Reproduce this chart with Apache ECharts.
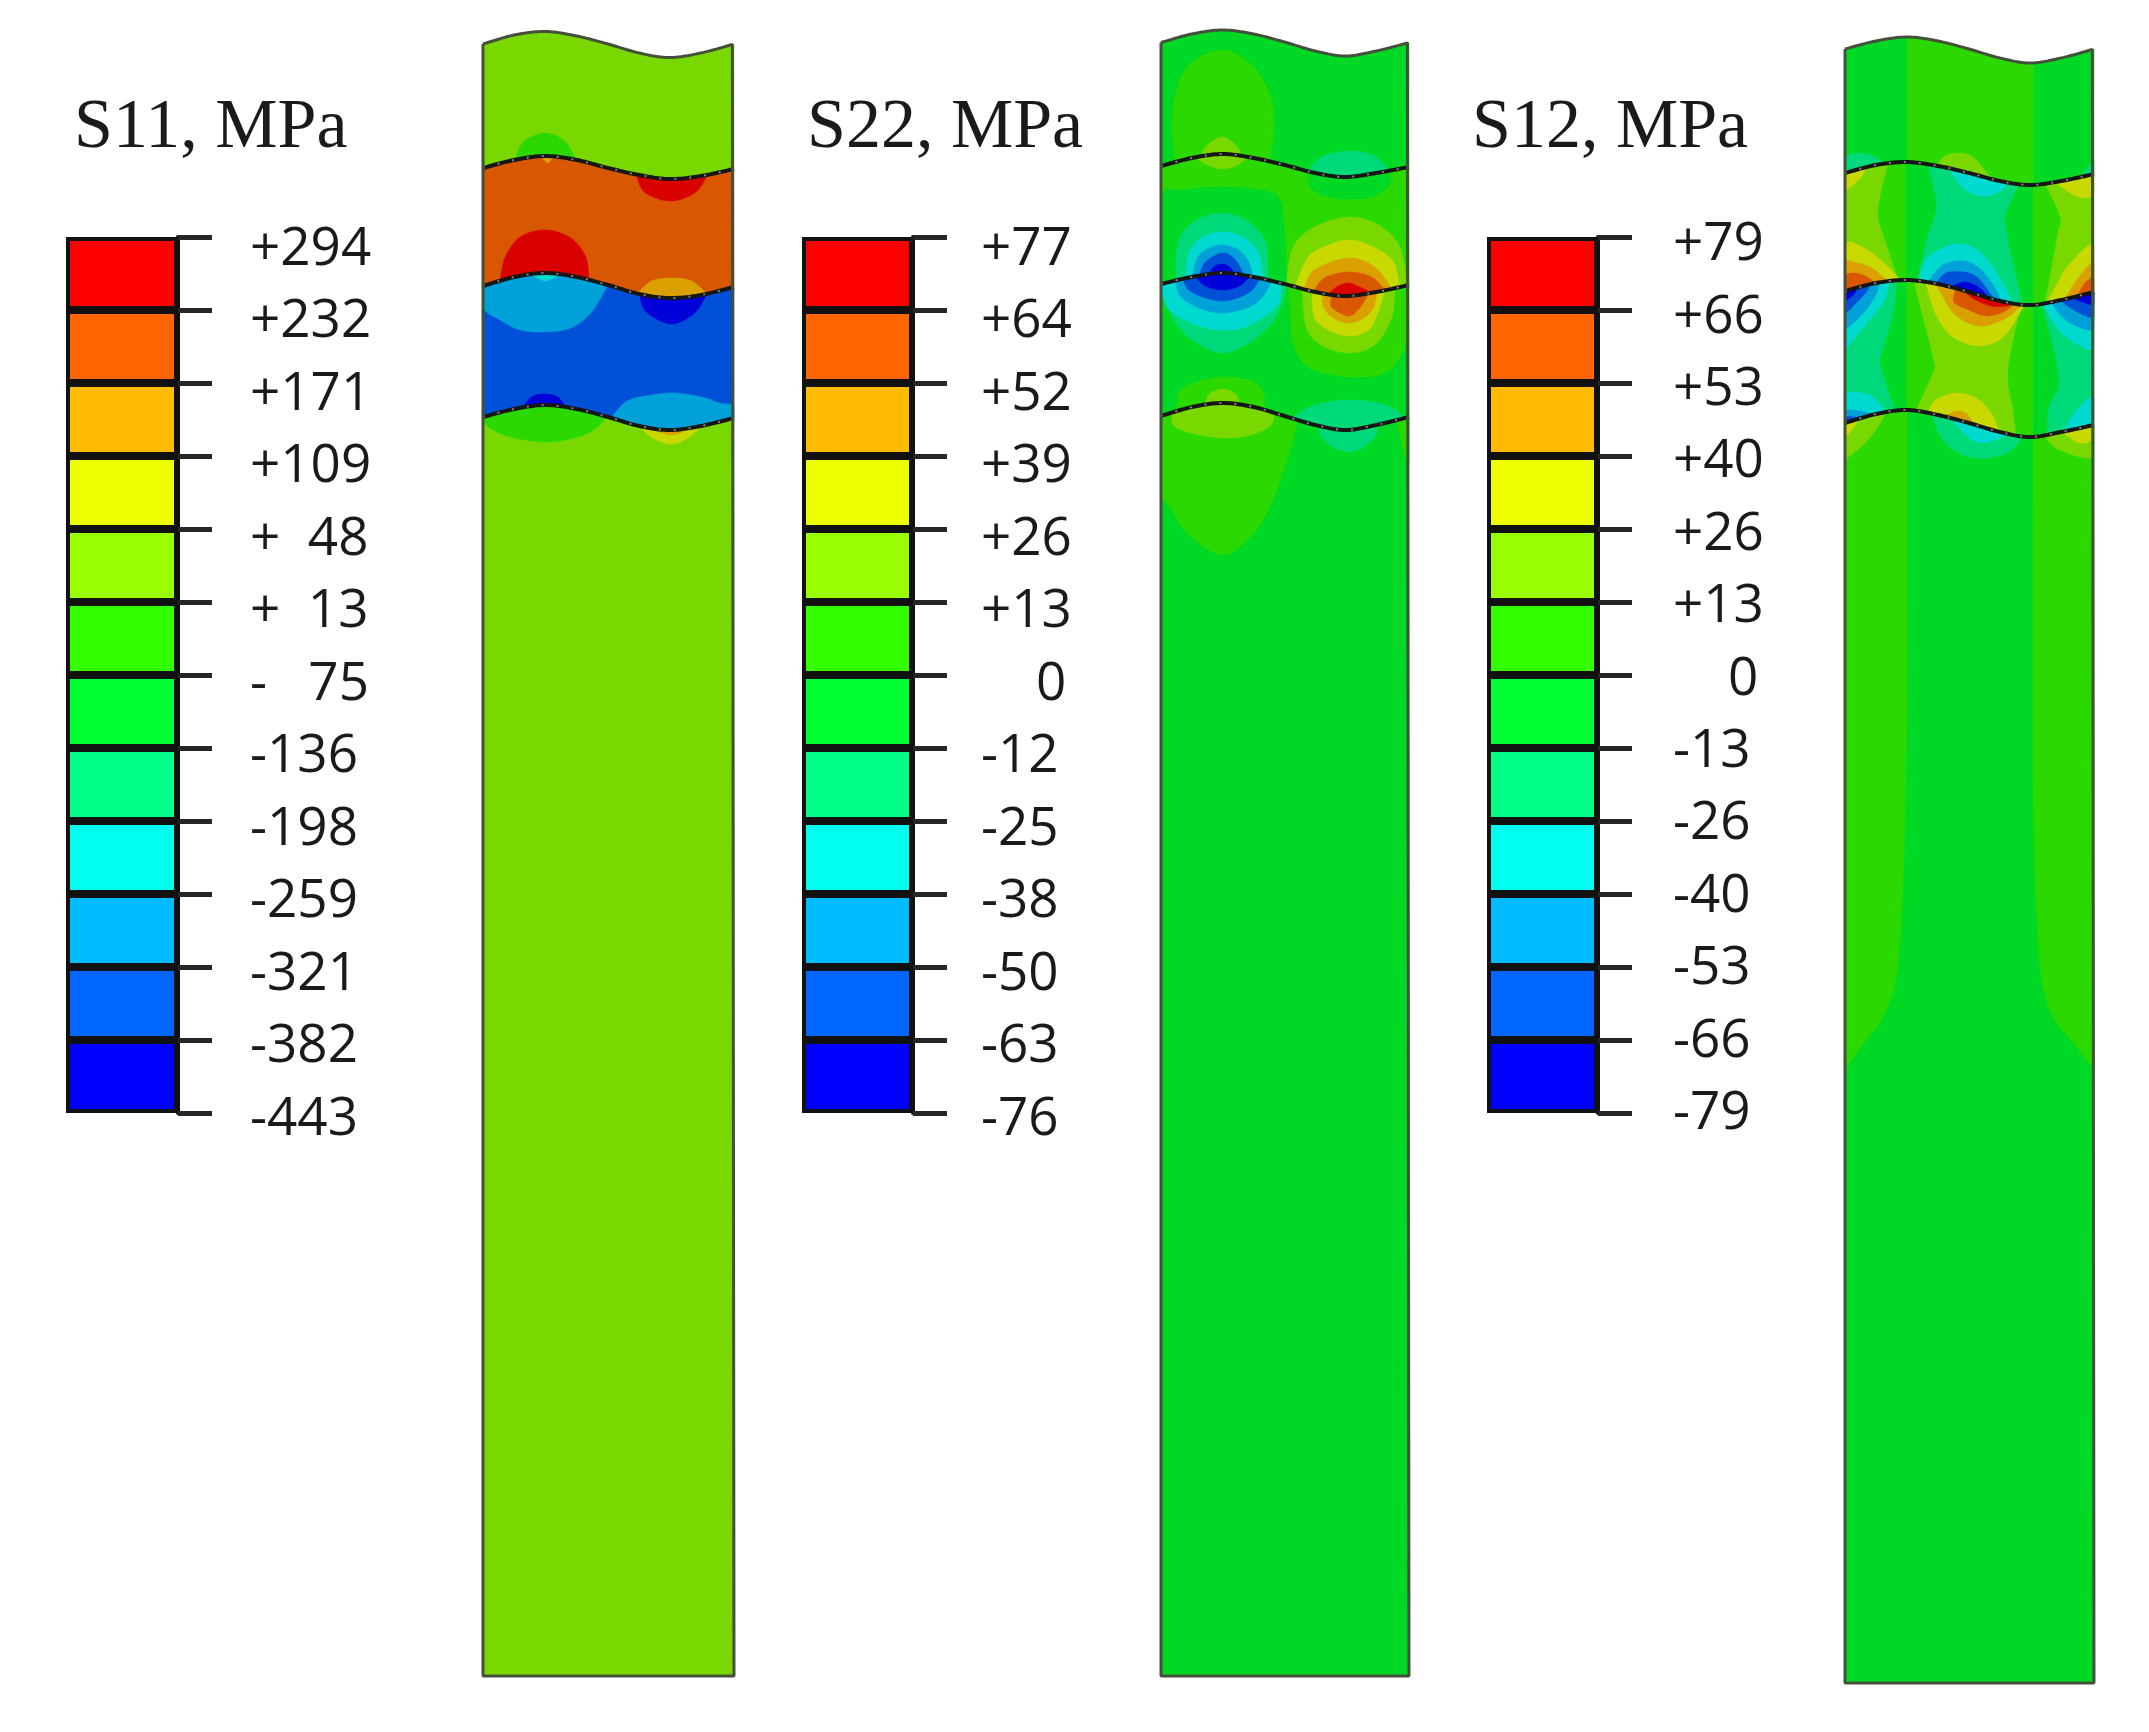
<!DOCTYPE html>
<html><head><meta charset="utf-8">
<style>html,body{margin:0;padding:0;background:#fff}#c{width:2149px;height:1732px;filter:blur(0.7px)}</style>
<script src="https://cdn.jsdelivr.net/npm/echarts@6/dist/echarts.min.js"></script>
</head><body><div id="c"></div>
<script>
// ---------- legend data ----------
const titles = ['S11, MPa', 'S22, MPa', 'S12, MPa'];
const s11Labels = ['+294','+232','+171','+109','+  48','+  13','-   75','-136','-198','-259','-321','-382','-443'];
const s22Labels = ['+77','+64','+52','+39','+26','+13','    0','-12','-25','-38','-50','-63','-76'];
const s12Labels = ['+79','+66','+53','+40','+26','+13','    0','-13','-26','-40','-53','-66','-79'];
const legendColors = ['#ff0000','#ff6600','#ffbb00','#eeff00','#99ff00','#33ff00','#00ff33','#00ff88','#00ffee','#00bbff','#0066ff','#0000ff'];
// contour level number -> shaded colour on the specimen
const shade = {2:'#0000d9',3:'#0050d8',4:'#00a0d9',5:'#00d9d0',6:'#00d97a',7:'#00d826',8:'#2bd900',9:'#78d800',10:'#c8d900',11:'#d9a000',12:'#d95700',13:'#d90000'};

// ---------- interface curves: across position -> position along the specimen ----------
const waveX = [0,31,62,93,124,155,185,216,249];
const s11Top = [44,35,31.5,36,44,53,57.5,53,44];
const s11A = [168,160,156,160,168,175,179,176,169];
const s11B = [286,277,273,277,285,294,298,295,287];
const s11C = [417,409,405,409,417,426,430,426,418];
const s22Top = [42.5,34,30,34,42,51,56,51,42.5];
const s22A = [166,158,154,158,165,173,177,173,167];
const s22B = [284,277,273,277,284,292,296,292,285];
const s22C = [416,407,403,407,416,425,430,425,417];
const s12Top = [49,41,37,41,49,58,63,58,49];
const s12A = [173,165,162,166,173,181,185,181,174];
const s12B = [291,283,280,284,292,301,305,300,292];
const s12C = [423,414,410,415,423,432,437,432,425];
const s11Bottom = 1676, s22Bottom = 1676, s12Bottom = 1683;
const s11Width = 249, s22Width = 246, s12Width = 247;
const s11Bands = [9,12,3,9], s22Bands = [7,8,7,7], s12Bands = [7,9,6,7];

// ---------- contour regions: [level, curve it closes on, outline] ----------
const s11Regions = [
 [8,'A',[[32,156],[40,142],[62,133],[82,142],[92,157]]],
 [11,'A',[[58,157],[64,163],[70,157]]],
 [13,'A',[[152,178],[160,192],[185,201],[210,193],[223,176]]],
 [13,'B',[[17,278],[22,257],[37,237],[62,230],[87,238],[102,257],[105,277]]],
 [11,'B',[[153,290],[167,281],[187,278],[207,281],[222,291]]],
 [4,'B',[[0,286],[0,308],[17,320],[37,330],[62,332],[87,328],[107,313],[124,290]]],
 [5,'B',[[47,277],[62,281],[77,278]]],
 [2,'B',[[155,295],[162,312],[187,324],[210,313],[222,295]]],
 [2,'C',[[40,407],[48,397],[61,394],[74,397],[82,407]]],
 [4,'C',[[127,416],[143,401],[167,395],[190,393],[217,397],[235,403],[249,406],[249,418]]],
 [8,'C',[[0,417],[0,420],[7,428],[27,437],[62,442],[90,438],[110,430],[123,421]]],
 [10,'C',[[155,429],[168,438],[187,444],[203,438],[217,430]]],
 [11,'C',[[165,428],[187,435],[205,428]]]
];
const s22Regions = [
 [8,'A',[[14,160],[11,130],[14,95],[28,65],[60,50],[90,65],[108,95],[112,125],[108,160]]],
 [9,'A',[[40,156],[45,146],[60,137],[74,145],[80,156]]],
 [6,'A',[[146,167],[159,157],[186,151],[212,156],[226,167]]],
 [9,'A',[[34,160],[46,165],[61,169],[76,165],[86,157]]],
 [7,'A',[[146,173],[149,188],[166,197],[186,199],[209,197],[226,185],[227,171]]],
 [7,'B',[[0,284],[0,198],[22,190],[61,187],[99,190],[117,198],[122,223],[124,270],[124,284]]],
 [6,'B',[[15,277],[17,243],[32,222],[61,213],[87,222],[104,243],[106,273]]],
 [5,'B',[[24,278],[28,252],[42,237],[61,232],[81,237],[97,253],[101,275]]],
 [4,'B',[[31,277],[36,258],[46,249],[61,245],[77,250],[87,262],[91,273]]],
 [3,'B',[[38,273],[44,262],[61,253],[74,260],[82,272]]],
 [2,'B',[[48,273],[52,267],[61,264],[68,267],[73,273]]],
 [6,'B',[[0,286],[4,300],[16,325],[34,342],[61,353],[89,342],[112,320],[121,300],[125,285]]],
 [5,'B',[[0,286],[6,307],[24,320],[45,328],[61,330],[80,328],[100,318],[117,303],[119,287]]],
 [4,'B',[[14,287],[20,297],[40,309],[61,313],[85,308],[100,298],[110,289]]],
 [3,'B',[[22,281],[30,292],[61,301],[88,292],[98,282]]],
 [2,'B',[[34,279],[44,286],[61,290],[78,286],[88,280]]],
 [9,'B',[[124,277],[131,247],[152,227],[186,217],[216,225],[237,247],[244,273]]],
 [10,'B',[[133,283],[146,257],[166,245],[186,240],[206,245],[229,260],[237,282]]],
 [11,'B',[[142,287],[152,270],[186,258],[212,267],[229,285]]],
 [12,'B',[[151,290],[162,278],[186,272],[209,277],[222,288]]],
 [13,'B',[[166,293],[174,287],[186,283],[197,287],[209,294]]],
 [8,'B',[[126,285],[129,320],[131,343],[146,367],[186,377],[222,373],[241,350],[244,320],[245,287]]],
 [9,'B',[[140,287],[144,327],[159,345],[186,353],[212,345],[229,317],[232,288]]],
 [10,'B',[[150,291],[152,317],[166,330],[186,336],[206,330],[216,310],[222,290]]],
 [11,'B',[[160,296],[161,307],[171,318],[186,323],[201,318],[211,307],[214,294]]],
 [12,'B',[[170,297],[169,307],[186,316],[197,308],[206,296]]],
 [8,'C',[[16,411],[18,392],[35,382],[61,377],[90,381],[101,392],[103,411]]],
 [9,'C',[[44,405],[48,394],[61,389],[74,394],[78,405]]],
 [6,'C',[[130,418],[145,408],[165,402],[186,400],[210,402],[230,408],[242,417]]],
 [8,'C',[[0,416],[0,490],[9,507],[26,533],[61,555],[92,533],[112,497],[126,457],[136,423]]],
 [9,'C',[[11,412],[12,425],[29,433],[61,438],[89,435],[109,425],[112,420]]],
 [6,'C',[[157,425],[159,437],[171,447],[186,452],[201,447],[212,437],[215,423]]],
 [8,'C',[[235,421],[238,440],[246,465],[246,417]]]
];
// columns between two curves: [level, upper curve, lower curve, left edge, right edge]
const s12Columns = [
 [8,'Top','A',[[62,40],[62,162]],[[187,60],[187,185]]],
 [8,'A','B',[[43,168],[35,197],[33,217],[40,240],[53,282]],[[61,162],[61,280]]],
 [7,'A','B',[[61,162],[61,280]],[[82,168],[90,197],[90,213],[82,237],[72,283]]],
 [6,'A','B',[[82,168],[90,197],[90,213],[82,237],[72,283]],[[173,187],[160,213],[160,227],[167,263],[177,304]]],
 [7,'A','B',[[173,187],[160,213],[160,227],[167,263],[177,304]],[[187,185],[187,305]]],
 [8,'A','B',[[187,185],[187,305]],[[198,183],[213,217],[210,237],[198,300]]],
 [7,'B','C',[[52,282],[48,313],[37,353],[35,363],[42,387],[50,412]],[[61,280],[61,410]]],
 [8,'B','C',[[61,280],[61,410]],[[68,281],[73,300],[88,360],[87,373],[72,407],[70,412]]],
 [9,'B','C',[[68,281],[73,300],[88,360],[87,373],[72,407],[70,412]],[[178,305],[175,307],[162,370],[167,410],[170,433]]],
 [8,'B','C',[[178,305],[175,307],[162,370],[167,410],[170,433]],[[187,305],[187,437]]],
 [7,'B','C',[[187,305],[187,437]],[[195,305],[212,377],[202,407],[200,433]]]
];
const s12Regions = [
 [8,'C',[[62,410],[62,600],[60,800],[53,960],[39,1014],[19,1042],[0,1069],[0,1060],[0,1000],[0,800],[0,600],[0,423]]],
 [8,'C',[[187,437],[187,800],[193,960],[205,1014],[226,1042],[247,1069],[247,1060],[247,1000],[247,800],[247,600],[247,425]]],
 [6,'A',[[0,173],[0,157],[17,153],[32,158],[36,163]]],
 [9,'A',[[92,167],[97,157],[112,153],[128,158],[145,179]]],
 [6,'A',[[233,176],[245,163],[247,162],[247,174]]],
 [10,'A',[[22,167],[15,178],[0,190],[0,173]]],
 [10,'A',[[208,182],[225,194],[238,198],[247,193],[247,174]]],
 [5,'A',[[103,173],[117,188],[135,196],[153,192],[162,183]]],
 [10,'B',[[0,291],[0,245],[17,247],[33,258],[48,272],[54,281]]],
 [11,'B',[[0,291],[0,263],[12,263],[25,267],[38,277],[41,282]]],
 [12,'B',[[0,291],[0,276],[10,273],[22,277],[30,285]]],
 [5,'B',[[73,281],[80,260],[97,248],[115,244],[135,253],[153,277],[167,303]]],
 [4,'B',[[82,282],[97,265],[117,261],[133,268],[147,285],[155,301]]],
 [3,'B',[[90,284],[100,273],[118,272],[132,278],[145,295],[150,299]]],
 [2,'B',[[105,287],[118,282],[132,287],[143,297]]],
 [10,'B',[[80,283],[85,300],[92,318],[107,337],[133,346],[157,337],[175,310],[178,305]]],
 [11,'B',[[90,288],[105,310],[120,322],[138,326],[160,318],[172,308],[174,305]]],
 [12,'B',[[110,289],[108,302],[123,310],[140,316],[157,312],[167,305],[169,304]]],
 [13,'B',[[118,291],[128,299],[145,306],[160,306],[165,303]]],
 [5,'B',[[0,291],[0,345],[10,337],[30,313],[40,298],[44,285]]],
 [4,'B',[[0,291],[0,327],[18,313],[30,296],[35,287]]],
 [3,'B',[[0,291],[0,312],[12,302],[22,291],[24,286]]],
 [2,'B',[[0,291],[0,300],[8,295],[13,287]]],
 [5,'B',[[195,304],[203,316],[212,330],[230,344],[247,346],[247,292]]],
 [4,'B',[[205,302],[212,313],[225,324],[247,328],[247,292]]],
 [3,'B',[[214,299],[225,309],[247,317],[247,292]]],
 [2,'B',[[225,297],[235,302],[247,304],[247,292]]],
 [10,'B',[[200,303],[210,285],[222,265],[247,245],[247,292]]],
 [11,'B',[[218,297],[232,277],[247,263],[247,292]]],
 [12,'B',[[230,297],[238,283],[247,278],[247,292]]],
 [5,'C',[[0,423],[0,395],[17,393],[30,399],[40,411],[43,415]]],
 [4,'C',[[0,423],[0,411],[15,411],[28,416]]],
 [3,'C',[[0,423],[0,417],[10,417],[16,419]]],
 [10,'C',[[82,415],[90,400],[110,393],[130,398],[145,413],[153,430]]],
 [11,'C',[[98,416],[112,411],[122,415],[127,420]]],
 [5,'C',[[218,432],[223,420],[233,407],[247,397],[247,425]]],
 [9,'C',[[42,418],[23,440],[3,457],[0,458],[0,423]]],
 [10,'C',[[14,418],[8,428],[0,436],[0,423]]],
 [6,'C',[[85,414],[97,440],[117,455],[140,458],[163,452],[175,438],[177,436]]],
 [5,'C',[[105,420],[122,437],[138,443],[157,437],[165,433]]],
 [9,'C',[[197,438],[213,450],[247,457],[247,425]]],
 [10,'C',[[215,431],[233,443],[247,438],[247,425]]]
];

// ---------- layout ----------
const barLayout = [{left:66,width:112},{left:802,width:111},{left:1487,width:111}];
const labelLayout = [{left:249,top:249.5,height:870},{left:980,top:249.5,height:870},{left:1672,top:245,height:869}];
const panelLayout = [{left:483,width:251},{left:1161,width:248},{left:1845,width:249}];
const titleLayout = [{left:69,top:89},{left:802,top:89},{left:1467,top:89}];

// ---------- geometry helpers ----------
function spline(pts, w, n){
  n = n || 8;
  const out = [];
  for (let i=0;i<pts.length-1;i++){
    const p0=pts[Math.max(i-1,0)],p1=pts[i],p2=pts[i+1],p3=pts[Math.min(i+2,pts.length-1)];
    for (let k=0;k<n;k++){
      const t=k/n,t2=t*t,t3=t2*t;
      const f=j=>0.5*(2*p1[j]+(p2[j]-p0[j])*t+(2*p0[j]-5*p1[j]+4*p2[j]-p3[j])*t2+(3*p1[j]-p0[j]-3*p2[j]+p3[j])*t3);
      out.push([Math.min(w,Math.max(0,f(0))),f(1)]);
    }
  }
  out.push(pts[pts.length-1]);
  return out;
}
function yAt(c,x){
  if (x<=c[0][0]) return c[0][1];
  for (let i=1;i<c.length;i++) if (x<=c[i][0]){
    const a=c[i-1],b=c[i];
    return a[1]+(b[1]-a[1])*(x-a[0])/Math.max(1e-6,b[0]-a[0]);
  }
  return c[c.length-1][1];
}
function along(c,x1,x2){
  const out=[],s=x2>x1?3:-3;
  for (let x=x1;s>0?x<x2:x>x2;x+=s) out.push([x,yAt(c,x)]);
  out.push([x2,yAt(c,x2)]);
  return out;
}
function snap(c,path){
  const p=path.map(q=>q.slice());
  p[0][1]=yAt(c,p[0][0]);
  return p;
}
function snapEnds(c,path){
  const p=snap(c,path);
  p[p.length-1][1]=yAt(c,p[p.length-1][0]);
  return p;
}
function buildPanel(xs,top,a,b,c,bottom,w,bands,cols,regions){
  const curve=ys=>spline(xs.map((x,i)=>[x*w/249,ys[i]]),w,12);
  const cv={Top:curve(top),A:curve(a),B:curve(b),C:curve(c),Bot:[[0,bottom],[w,bottom]]};
  const shapes=[];
  const between=(lv,u,l,left,right)=>{
    const L=snap(cv[u],left); L[L.length-1][1]=yAt(cv[l],L[L.length-1][0]);
    const R=snap(cv[u],right); R[R.length-1][1]=yAt(cv[l],R[R.length-1][0]);
    const ls=spline(L,w), rs=spline(R,w);
    shapes.push({c:shade[lv],p:[].concat(ls,along(cv[l],ls[ls.length-1][0],rs[rs.length-1][0]),rs.slice().reverse(),along(cv[u],rs[0][0],ls[0][0]))});
  };
  const names=['Top','A','B','C','Bot'];
  bands.forEach((lv,i)=>between(lv,names[i],names[i+1],[[0,0],[0,0]],[[w,0],[w,0]]));
  cols.forEach(s=>between(s[0],s[1],s[2],s[3],s[4]));
  regions.forEach(s=>{
    const k=cv[s[1]];
    const arc=snapEnds(k,s[2]);
    const sp=spline(arc,w);
    shapes.push({c:shade[s[0]],p:sp.concat(along(k,sp[sp.length-1][0],sp[0][0]))});
  });
  return {shapes,cv};
}
const panels=[
  buildPanel(waveX,s11Top,s11A,s11B,s11C,s11Bottom,s11Width,s11Bands,[],s11Regions),
  buildPanel(waveX,s22Top,s22A,s22B,s22C,s22Bottom,s22Width,s22Bands,[],s22Regions),
  buildPanel(waveX,s12Top,s12A,s12B,s12C,s12Bottom,s12Width,s12Bands,s12Columns,s12Regions)
];
const widths=[s11Width,s22Width,s12Width];
const bottoms=[s11Bottom,s22Bottom,s12Bottom];
const labelSets=[s11Labels,s22Labels,s12Labels];

// ---------- option ----------
const grid=[],xAxis=[],yAxis=[],series=[],title=[];
titles.forEach((t,i)=>title.push({text:t,left:titleLayout[i].left,top:titleLayout[i].top,textStyle:{fontFamily:'Liberation Serif',fontSize:70,fontWeight:'normal',color:'#1a1a1a'}}));
for (let i=0;i<3;i++){
  // colour bar
  let g=grid.length;
  grid.push({left:barLayout[i].left,width:barLayout[i].width,top:237,height:876});
  xAxis.push({gridIndex:g,type:'category',data:['band'],show:false});
  yAxis.push({gridIndex:g,type:'value',position:'right',min:0,max:12,interval:1,
    axisLine:{show:true,lineStyle:{color:'#111',width:4}},
    axisTick:{show:true,length:34,lineStyle:{color:'#262626',width:5}},
    axisLabel:{show:false},splitLine:{show:false}});
  legendColors.slice().reverse().forEach((c,k)=>series.push({type:'bar',name:'band'+k,stack:'b'+i,xAxisIndex:g,yAxisIndex:g,barWidth:'100%',data:[1],
    itemStyle:{color:c,borderColor:'#111',borderWidth:4},silent:true}));
  // tick labels
  g=grid.length;
  grid.push({left:labelLayout[i].left,width:1,top:labelLayout[i].top,height:labelLayout[i].height});
  xAxis.push({gridIndex:g,type:'value',min:0,max:1,show:false});
  const labs=labelSets[i];
  yAxis.push({gridIndex:g,type:'value',position:'right',inverse:true,min:0,max:12,interval:1,
    axisLine:{show:false},axisTick:{show:false},splitLine:{show:false},
    axisLabel:{show:true,margin:0,align:'left',fontFamily:'Open Sans',fontSize:53,color:'#1a1a1a',formatter:v=>labs[v]}});
  // specimen
  g=grid.length;
  grid.push({left:panelLayout[i].left,width:panelLayout[i].width,top:0,height:1732});
  xAxis.push({gridIndex:g,type:'value',min:0,max:widths[i],show:false});
  yAxis.push({gridIndex:g,type:'value',inverse:true,min:0,max:1732,show:false});
  const P=panels[i];
  series.push({type:'custom',coordinateSystem:'cartesian2d',xAxisIndex:g,yAxisIndex:g,clip:false,silent:true,
    data:P.shapes.map((s,k)=>[k,k]),
    renderItem:(params,api)=>{
      const s=P.shapes[params.dataIndex];
      return {type:'polygon',shape:{points:s.p.map(q=>api.coord(q))},style:{fill:s.c,stroke:s.c,lineWidth:0.5}};
    }});
  ['A','B','C'].forEach(n=>{
    series.push({type:'line',xAxisIndex:g,yAxisIndex:g,showSymbol:false,silent:true,clip:false,data:P.cv[n],
      lineStyle:{color:'#161616',width:4}});
    series.push({type:'line',xAxisIndex:g,yAxisIndex:g,showSymbol:false,silent:true,clip:false,data:P.cv[n],
      lineStyle:{color:'#d8d8d8',width:2,type:[2,13],opacity:0.55}});
  });
  const w=widths[i],b=bottoms[i];
  series.push({type:'line',xAxisIndex:g,yAxisIndex:g,showSymbol:false,silent:true,clip:false,
    data:P.cv.Top.concat([[w,b],[0,b],P.cv.Top[0]]),lineStyle:{color:'#44503a',width:3}});
}
const chart=echarts.init(document.getElementById('c'),null,{renderer:'canvas',width:2149,height:1732});
chart.setOption({backgroundColor:'#fff',animation:false,title,grid,xAxis,yAxis,series,tooltip:{show:false}});
</script></body></html>
